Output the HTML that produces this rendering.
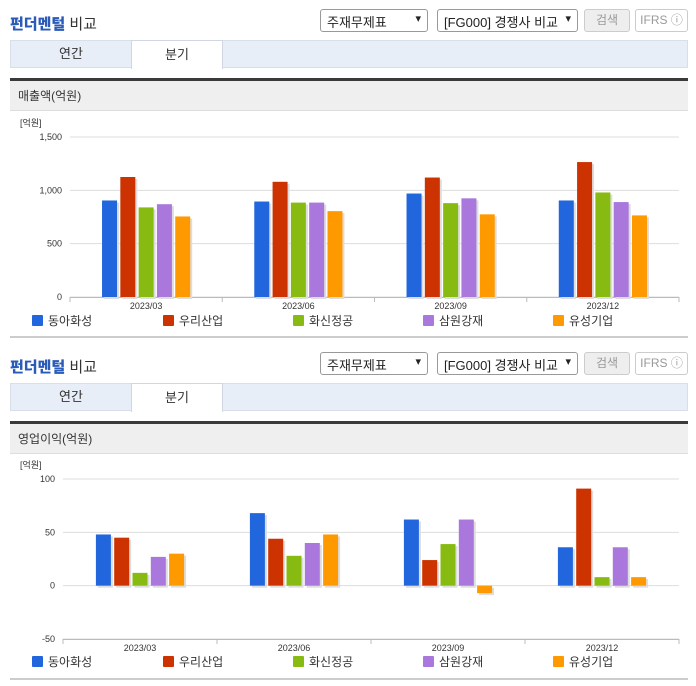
<!DOCTYPE html>
<html><head><meta charset="utf-8">
<style>
*{margin:0;padding:0;box-sizing:border-box}
body{width:696px;height:684px;background:#fff;font-family:"Liberation Sans","Noto Sans CJK KR",sans-serif;position:relative;overflow:hidden;color:#333}
.sec{position:absolute;left:0;width:696px;height:343px}
.title{position:absolute;left:10px;top:13px;font-size:15px;font-weight:bold;color:#333}
.title b{color:#2b5bb8}
.title span{font-weight:normal}
.sel{position:absolute;top:9px;height:23px;border:1px solid #999;border-radius:3px;background:#fff;font-size:13px;padding:2px 6px;color:#222}
.sel i{position:absolute;right:6px;top:2px;font-style:normal;font-size:11px}
.btn{position:absolute;top:9px;height:23px;border:1px solid #ccc;border-radius:3px;font-size:12px;color:#999;text-align:center;line-height:21px}
.tabs{position:absolute;left:10px;top:40px;width:678px;height:28px;background:#e8eef7;border:1px solid #d8dfe9}
.tab{position:absolute;top:-1px;height:29px;font-size:13px;line-height:27px;text-align:center;color:#333}
.tab.on{background:#fff;border:1px solid #d0d7e2;border-bottom:none}
.bar2{position:absolute;left:10px;top:78px;width:678px;height:3px;background:#3a3a3a}
.hd{position:absolute;left:10px;top:81px;width:678px;height:30px;background:#efefef;border-bottom:1px solid #ddd;font-size:12px;line-height:30px;padding-left:8px}
.bot{position:absolute;left:10px;width:678px;height:2px;background:#ccc}
</style></head><body>

<div class="sec" style="top:0">
 <div class="title"><b>펀더멘털</b> <span>비교</span></div>
 <div class="sel" style="left:320px;width:108px">주재무제표<i>▾</i></div>
 <div class="sel" style="left:437px;width:141px">[FG000] 경쟁사 비교<i>▾</i></div>
 <div class="btn" style="left:584px;width:46px;background:#eee">검색</div>
 <div class="btn" style="left:635px;width:53px">IFRS ⓘ</div>
 <div class="tabs">
  <div class="tab" style="left:0;width:120px">연간</div>
  <div class="tab on" style="left:120px;width:92px">분기</div>
 </div>
 <div class="bar2"></div>
 <div class="hd">매출액(억원)</div>
 <div class="bot" style="top:336px"></div>
</div>

<div class="sec" style="top:343px">
 <div class="title"><b>펀더멘털</b> <span>비교</span></div>
 <div class="sel" style="left:320px;width:108px">주재무제표<i>▾</i></div>
 <div class="sel" style="left:437px;width:141px">[FG000] 경쟁사 비교<i>▾</i></div>
 <div class="btn" style="left:584px;width:46px;background:#eee">검색</div>
 <div class="btn" style="left:635px;width:53px">IFRS ⓘ</div>
 <div class="tabs">
  <div class="tab" style="left:0;width:120px">연간</div>
  <div class="tab on" style="left:120px;width:92px">분기</div>
 </div>
 <div class="bar2"></div>
 <div class="hd">영업이익(억원)</div>
 <div class="bot" style="top:335px"></div>
</div>

<svg id="c1" width="696" height="684" style="position:absolute;left:0;top:0"></svg>

<script>
const categories = ["2023/03","2023/06","2023/09","2023/12"];
const seriesNames = ["동아화성","우리산업","화신정공","삼원강재","유성기업"];
const sales동아 = [905,895,970,905];
const sales우리 = [1125,1080,1120,1265];
const sales화신 = [840,885,880,980];
const sales삼원 = [870,885,925,890];
const sales유성 = [755,805,775,765];
const op동아 = [48,68,62,36];
const op우리 = [45,44,24,91];
const op화신 = [12,28,39,8];
const op삼원 = [27,40,62,36];
const op유성 = [30,48,-7,8];
const salesTicks = [0,500,1000,1500];
const salesTickLabels = ["0","500","1,000","1,500"];
const opTicks = [-50,0,50,100];
const opTickLabels = ["-50","0","50","100"];
const colors = ["#2266dd","#cc3300","#88bb11","#aa77dd","#ff9900"];

const NS="http://www.w3.org/2000/svg";
const svg=document.getElementById('c1');
function mk(tag,attrs,parent){const e=document.createElementNS(NS,tag);for(const k in attrs)e.setAttribute(k,attrs[k]);(parent||svg).appendChild(e);return e;}

function drawChart(cfg){
 const {x0,x1,yTop,yBot,vMin,vMax,ticks,labels,series,legendY,unitY,name}=cfg;
 const g=mk('g',{});
 
 
 const y=v=>yBot-(v-vMin)/(vMax-vMin)*(yBot-yTop);
 const gw=(x1-x0)/categories.length;
 const u=mk('text',{x:20,y:unitY,'font-size':9,fill:'#333'},g);u.textContent='[억원]';
 
 
 ticks.forEach((t,i)=>{
  const yy=y(t);
  const l=mk('line',{x1:x0,x2:x1,y1:yy,y2:yy,stroke:'#ddd','stroke-width':1},g);
  
  
  const tx=mk('text',{x:x0-8,y:yy+3,'font-size':9,fill:'#333','text-anchor':'end'},g);tx.textContent=labels[i];
  
  
 });
 const ax=mk('line',{x1:x0,x2:x1,y1:yBot+0.5,y2:yBot+0.5,stroke:'#bbb'},g);
 
 
 for(let i=0;i<=categories.length;i++){
  const tk=mk('line',{x1:x0+gw*i,x2:x0+gw*i,y1:yBot,y2:yBot+5,stroke:'#bbb'},g);
  
  
 }
 const bw=15,pitch=18.3;
 categories.forEach((c,ci)=>{
  const cx=x0+gw*ci+gw/2;
  const t=mk('text',{x:cx,y:yBot+12,'font-size':9,fill:'#333','text-anchor':'middle'},g);t.textContent=c;
  
  
  series.forEach((s,si)=>{
   const bx=cx-(pitch*4+bw)/2+pitch*si;
   const v=s[ci],yv=y(v),y0=y(0);
   const top=Math.min(yv,y0),h=Math.abs(yv-y0);
   mk('rect',{x:bx+2,y:top+2,width:bw,height:h,fill:'#ddd'},g);
   const r=mk('rect',{x:bx,y:top,width:bw,height:h,fill:colors[si]},g);
   
   
  });
 });
 const lx=[32,163,293,423,553];
 seriesNames.forEach((n,i)=>{
  const r=mk('rect',{x:lx[i],y:legendY-6,width:11,height:11,fill:colors[i],rx:1},g);
  
  
  const t=mk('text',{x:lx[i]+16,y:legendY+4,'font-size':12,fill:'#333'},g);t.textContent=n;
  
  
 });
}
drawChart({name:'sales-chart',x0:70,x1:679,yTop:137,yBot:297,vMin:0,vMax:1500,ticks:salesTicks,labels:salesTickLabels,
 series:[sales동아,sales우리,sales화신,sales삼원,sales유성],legendY:321,unitY:126});
drawChart({name:'op-income-chart',x0:63,x1:679,yTop:479,yBot:639,vMin:-50,vMax:100,ticks:opTicks,labels:opTickLabels,
 series:[op동아,op우리,op화신,op삼원,op유성],legendY:662,unitY:468});
</script>
</body></html>
